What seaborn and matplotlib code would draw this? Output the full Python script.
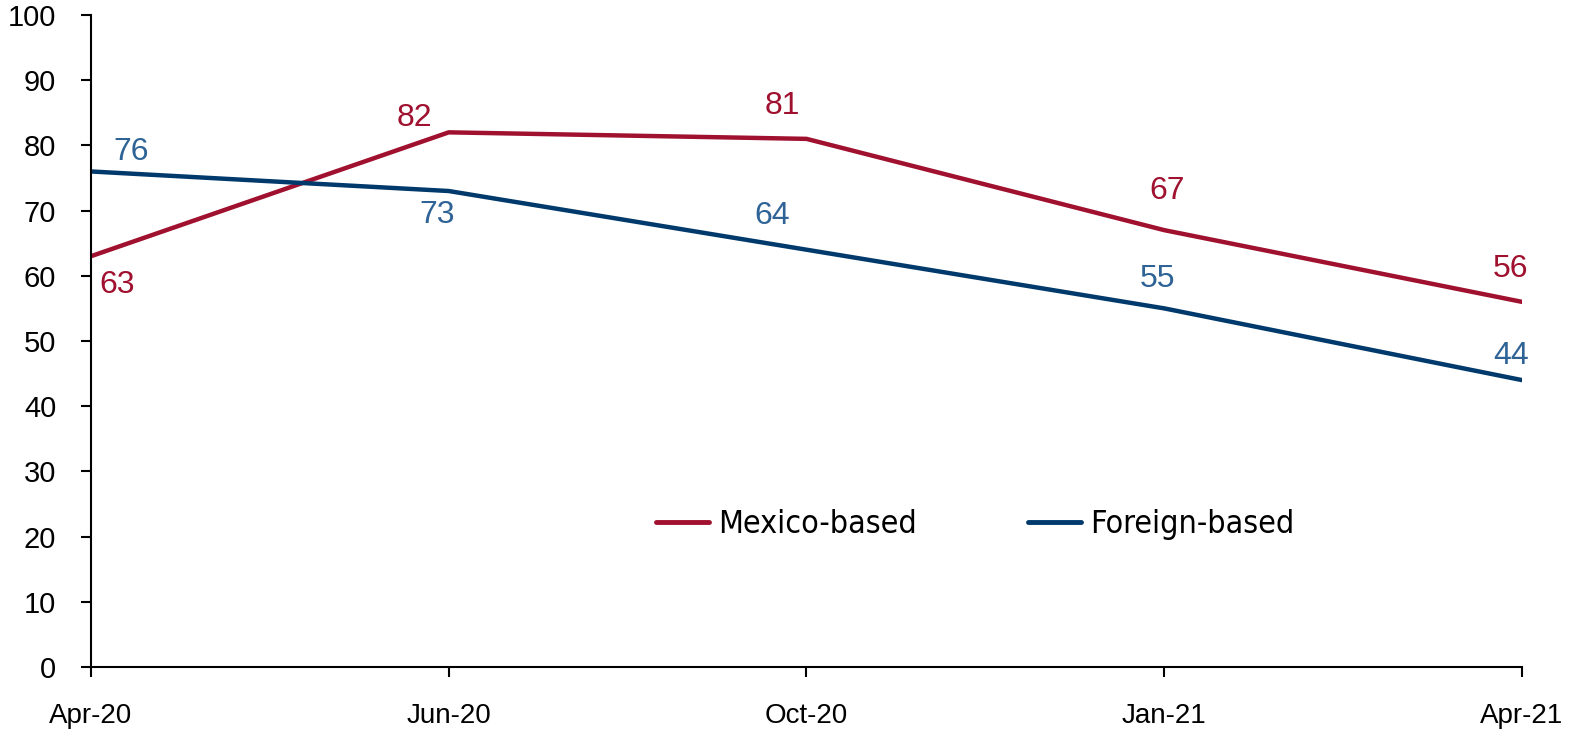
import numpy as np
import pandas as pd
import seaborn as sns
import matplotlib.pyplot as plt

# data
dates = ['Apr-20', 'Jun-20', 'Oct-20', 'Jan-21', 'Apr-21']
mexico = [63, 82, 81, 67, 56]
foreign = [76, 73, 64, 55, 44]

# label offsets in points (dx, dy)
mexico_offsets = [(19, -21), (-25, 10), (-17, 24), (2, 28), (-8, 24)]
foreign_offsets = [(29, 14), (-8, -17), (-25, 24), (-5, 21), (-8, 17)]

red = '#A0112F'
blue = '#003A6C'
blue_label = '#2F6396'

sns.set_style('ticks')
plt.rcParams['font.family'] = ['Liberation Sans', 'DejaVu Sans']

df = pd.DataFrame({
    'date': dates * 2,
    'value': mexico + foreign,
    'series': ['Mexico-based'] * len(dates) + ['Foreign-based'] * len(dates),
})

fig = plt.figure(figsize=(15.71, 7.31), dpi=100)
ax = fig.add_axes([0.0579, 0.0876, 0.9109, 0.8919])

sns.lineplot(data=df, x='date', y='value', hue='series', sort=False,
             palette={'Mexico-based': red, 'Foreign-based': blue},
             linewidth=3.2, ax=ax, legend=True)

# data labels
for i, (v, off) in enumerate(zip(mexico, mexico_offsets)):
    ax.annotate(str(v), (i, v), xytext=off, textcoords='offset points',
                ha='center', va='center', color=red, fontsize=23)
for i, (v, off) in enumerate(zip(foreign, foreign_offsets)):
    ax.annotate(str(v), (i, v), xytext=off, textcoords='offset points',
                ha='center', va='center', color=blue_label, fontsize=23)

ax.set_xlim(0, len(dates) - 1)
ax.set_ylim(0, 100)
ax.set_yticks(np.arange(0, 101, 10))
ax.set_xlabel('')
ax.set_ylabel('')
ax.tick_params(axis='y', labelsize=21, length=7, width=1.5, pad=18, direction='out',
               colors='black')
ax.tick_params(axis='x', labelsize=20, length=7, width=1.5, pad=19, direction='out',
               colors='black')
for s in ['left', 'bottom']:
    ax.spines[s].set_linewidth(1.5)
    ax.spines[s].set_color('black')
sns.despine(ax=ax)

leg = ax.legend(loc='center', bbox_to_anchor=(0.618, 0.219), ncol=2, frameon=False,
                columnspacing=3.5, handlelength=1.65, handletextpad=0.28,
                prop={'family': 'DejaVu Sans', 'stretch': 'condensed', 'size': 23})
for line in leg.get_lines():
    line.set_linewidth(3.5)
    line.set_solid_capstyle('round')
for t in leg.get_texts():
    t.set_color('black')

fig.savefig('out.png', dpi=100)
